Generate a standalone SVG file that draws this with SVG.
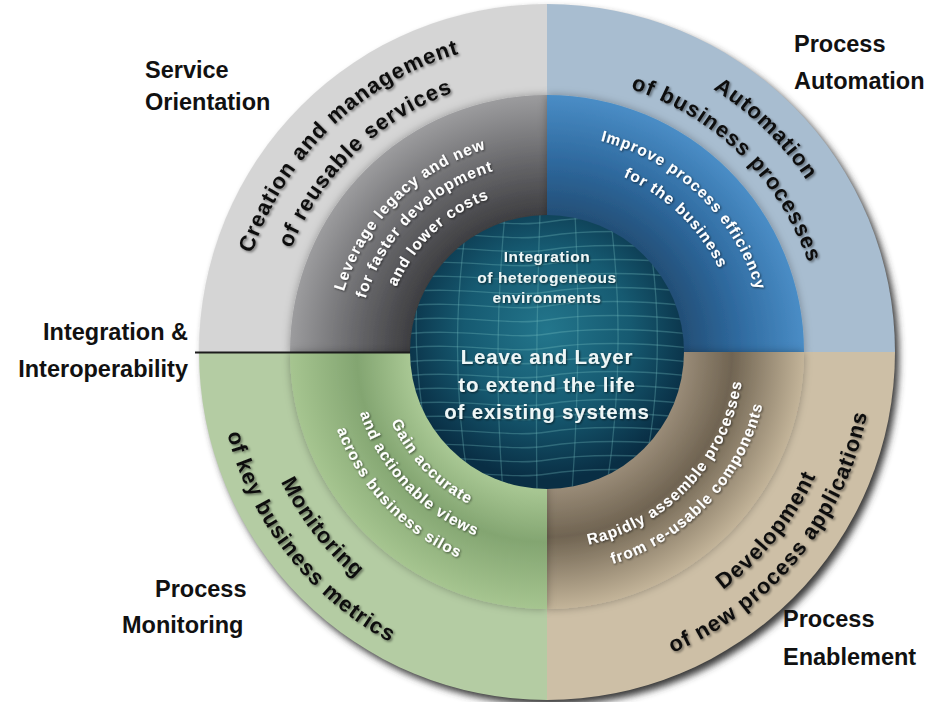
<svg xmlns="http://www.w3.org/2000/svg" width="943" height="702" viewBox="0 0 943 702">
  <defs>
    <style>
      .lbl{font-family:"Liberation Sans",Arial,sans-serif;font-weight:700;font-size:23.5px;fill:#111}
      .ring{font-family:"Liberation Sans",Arial,sans-serif;font-weight:700;font-size:22px;letter-spacing:1px;fill:#111;text-anchor:middle}
      .band{font-family:"Liberation Sans",Arial,sans-serif;font-weight:700;font-size:15.5px;letter-spacing:1px;fill:#fff;text-anchor:middle}
      .core{font-family:"Liberation Sans",Arial,sans-serif;font-weight:700;fill:#eef6f6;text-anchor:middle}
      .grid{fill:none;stroke:#7cc4c4;stroke-opacity:0.3;stroke-width:1.3}
    </style>

    <!-- soft drop shadow beneath the whole disc -->
    <filter id="discShadow" x="-10%" y="-10%" width="125%" height="125%">
      <feGaussianBlur stdDeviation="3.5"/>
    </filter>
    <!-- shadow for the coloured band edge -->
    <filter id="bandShadow" x="-10%" y="-10%" width="120%" height="120%">
      <feDropShadow dx="0" dy="0" stdDeviation="4" flood-color="#000" flood-opacity="0.3"/>
    </filter>
    <!-- text shadows -->
    <filter id="darkTxt" x="-10%" y="-20%" width="120%" height="140%">
      <feDropShadow dx="1.5" dy="1.5" stdDeviation="1.3" flood-color="#000" flood-opacity="0.45"/>
    </filter>
    <filter id="lightTxt" x="-10%" y="-20%" width="120%" height="140%">
      <feDropShadow dx="1" dy="1" stdDeviation="1.2" flood-color="#000" flood-opacity="0.6"/>
    </filter>

    <radialGradient id="gTL" gradientUnits="userSpaceOnUse" cx="547" cy="352" r="257">
      <stop offset="0.53" stop-color="#3d3d40"/>
      <stop offset="0.75" stop-color="#68686b"/>
      <stop offset="1" stop-color="#9c9c9e"/>
    </radialGradient>
    <radialGradient id="gTR" gradientUnits="userSpaceOnUse" cx="547" cy="352" r="257">
      <stop offset="0.53" stop-color="#234e76"/>
      <stop offset="0.75" stop-color="#2f6a9f"/>
      <stop offset="1" stop-color="#4a8dc6"/>
    </radialGradient>
    <radialGradient id="gBL" gradientUnits="userSpaceOnUse" cx="547" cy="352" r="257">
      <stop offset="0.53" stop-color="#a9c894"/>
      <stop offset="0.74" stop-color="#83a571"/>
      <stop offset="1" stop-color="#a6c590"/>
    </radialGradient>
    <radialGradient id="gBR" gradientUnits="userSpaceOnUse" cx="547" cy="352" r="257">
      <stop offset="0.53" stop-color="#9a8c78"/>
      <stop offset="0.72" stop-color="#706452"/>
      <stop offset="1" stop-color="#c3b499"/>
    </radialGradient>
    <radialGradient id="gCore" gradientUnits="userSpaceOnUse" cx="547" cy="330" r="150">
      <stop offset="0" stop-color="#23768c"/>
      <stop offset="0.55" stop-color="#165a71"/>
      <stop offset="1" stop-color="#092e44"/>
    </radialGradient>

    <clipPath id="coreClip">
      <circle cx="547" cy="352" r="137"/>
    </clipPath>

    <!-- text baselines: upper arcs run clockwise, lower arcs counter-clockwise -->
    <path id="u311" d="M236,352 A311,311 0 0 1 858,352"/>
    <path id="u276" d="M271,352 A276,276 0 0 1 823,352"/>
    <path id="u212" d="M335,352 A212,212 0 0 1 759,352"/>
    <path id="u189" d="M358,352 A189,189 0 0 1 736,352"/>
    <path id="u164" d="M383,352 A164,164 0 0 1 711,352"/>
    <path id="u218" d="M329,352 A218,218 0 0 1 765,352"/>
    <path id="u191" d="M356,352 A191,191 0 0 1 738,352"/>
    <path id="d296" d="M251,352 A296,296 0 0 0 843,352"/>
    <path id="d330" d="M217,352 A330,330 0 0 0 877,352"/>
    <path id="d326" d="M221,352 A326,326 0 0 0 873,352"/>
    <path id="d171" d="M376,352 A171,171 0 0 0 718,352"/>
    <path id="d197" d="M350,352 A197,197 0 0 0 744,352"/>
    <path id="d224" d="M323,352 A224,224 0 0 0 771,352"/>
    <path id="d222" d="M325,352 A222,222 0 0 0 769,352"/>
  </defs>

  <rect width="943" height="702" fill="#fff"/>

  <!-- disc shadow -->
  <circle cx="551" cy="357" r="348" fill="#3a3a3a" filter="url(#discShadow)"/>

  <!-- Service Orientation quadrant -->
  <g id="service-orientation">
    <path d="M547,352 L199,352 A348,348 0 0 1 547,4 Z" fill="#d5d5d5"/>
    <path d="M547,352 L290,352 A257,257 0 0 1 547,95 Z" fill="url(#gTL)" filter="url(#bandShadow)"/>
    <g filter="url(#darkTxt)">
      <text class="ring"><textPath href="#u311" startOffset="25.6%">Creation and management</textPath></text>
      <text class="ring"><textPath href="#u276" startOffset="25.6%">of reusable services</textPath></text>
    </g>
    <g filter="url(#lightTxt)">
      <text class="band"><textPath href="#u212" startOffset="25%">Leverage legacy and new</textPath></text>
      <text class="band"><textPath href="#u189" startOffset="25%">for faster development</textPath></text>
      <text class="band"><textPath href="#u164" startOffset="25.8%">and lower costs</textPath></text>
    </g>
    <text class="lbl" x="145" y="78">Service</text>
    <text class="lbl" x="145" y="110">Orientation</text>
  </g>

  <!-- Process Automation quadrant -->
  <g id="process-automation">
    <path d="M547,352 L547,4 A348,348 0 0 1 895,352 Z" fill="#a8bdd0"/>
    <path d="M547,352 L547,95 A257,257 0 0 1 804,352 Z" fill="url(#gTR)" filter="url(#bandShadow)"/>
    <g filter="url(#darkTxt)">
      <text class="ring"><textPath href="#u311" startOffset="74.7%">Automation</textPath></text>
      <text class="ring"><textPath href="#u276" startOffset="74.7%">of business processes</textPath></text>
    </g>
    <g filter="url(#lightTxt)">
      <text class="band"><textPath href="#u218" startOffset="74.4%">Improve process efficiency</textPath></text>
      <text class="band"><textPath href="#u191" startOffset="74.4%">for the business</textPath></text>
    </g>
    <text class="lbl" x="794" y="52">Process</text>
    <text class="lbl" x="794" y="89">Automation</text>
  </g>

  <!-- Process Enablement quadrant -->
  <g id="process-enablement">
    <path d="M547,352 L895,352 A348,348 0 0 1 547,700 Z" fill="#cdbfa6"/>
    <path d="M547,352 L804,352 A257,257 0 0 1 547,609 Z" fill="url(#gBR)" filter="url(#bandShadow)"/>
    <g filter="url(#darkTxt)">
      <text class="ring"><textPath href="#d296" startOffset="78.3%">Development</textPath></text>
      <text class="ring"><textPath href="#d326" startOffset="78.3%">of new process applications</textPath></text>
    </g>
    <g filter="url(#lightTxt)">
      <text class="band"><textPath href="#d197" startOffset="76%">Rapidly assemble processes</textPath></text>
      <text class="band"><textPath href="#d222" startOffset="76%">from re-usable components</textPath></text>
    </g>
    <text class="lbl" x="783" y="627">Process</text>
    <text class="lbl" x="783" y="665">Enablement</text>
  </g>

  <!-- Process Monitoring quadrant -->
  <g id="process-monitoring">
    <path d="M547,352 L547,700 A348,348 0 0 1 199,352 Z" fill="#b4cca3"/>
    <path d="M547,352 L547,609 A257,257 0 0 1 290,352 Z" fill="url(#gBL)" filter="url(#bandShadow)"/>
    <g filter="url(#darkTxt)">
      <text class="ring"><textPath href="#d296" startOffset="21.1%">Monitoring</textPath></text>
      <text class="ring"><textPath href="#d330" startOffset="21.1%">of key business metrics</textPath></text>
    </g>
    <g filter="url(#lightTxt)">
      <text class="band"><textPath href="#d171" startOffset="24.2%">Gain accurate</textPath></text>
      <text class="band"><textPath href="#d197" startOffset="24.2%">and actionable views</textPath></text>
      <text class="band"><textPath href="#d224" startOffset="24.2%">across business silos</textPath></text>
    </g>
    <text class="lbl" x="155" y="597">Process</text>
    <text class="lbl" x="122" y="633">Monitoring</text>
  </g>

  <!-- Integration & Interoperability: divider and label -->
  <g id="integration">
    <line x1="195" y1="352.5" x2="412" y2="352.5" stroke="#1c1c1c" stroke-width="2"/>
    <text class="lbl" x="188" y="340" text-anchor="end">Integration &amp;</text>
    <text class="lbl" x="188" y="377" text-anchor="end">Interoperability</text>
  </g>

  <!-- central globe -->
  <g id="core">
    <circle cx="547" cy="352" r="137" fill="url(#gCore)"/>
    <g clip-path="url(#coreClip)" class="grid">
      <path d="M405,222 C460,216 510,228 547,222 S640,216 690,222"/>
      <path d="M405,236 C460,230 510,242 547,236 S640,230 690,236"/>
      <path d="M405,250 C460,244 510,256 547,250 S640,244 690,250"/>
      <path d="M405,264 C460,258 510,270 547,264 S640,258 690,264"/>
      <path d="M405,278 C460,272 510,284 547,278 S640,272 690,278"/>
      <path d="M405,292 C460,286 510,298 547,292 S640,286 690,292"/>
      <path d="M405,306 C460,300 510,312 547,306 S640,300 690,306"/>
      <path d="M405,320 C460,314 510,326 547,320 S640,314 690,320"/>
      <path d="M405,334 C460,328 510,340 547,334 S640,328 690,334"/>
      <path d="M405,348 C460,342 510,354 547,348 S640,342 690,348"/>
      <path d="M405,362 C460,356 510,368 547,362 S640,356 690,362"/>
      <path d="M405,376 C460,370 510,382 547,376 S640,370 690,376"/>
      <path d="M405,390 C460,384 510,396 547,390 S640,384 690,390"/>
      <path d="M405,404 C460,398 510,410 547,404 S640,398 690,404"/>
      <path d="M405,418 C460,412 510,424 547,418 S640,412 690,418"/>
      <path d="M405,432 C460,426 510,438 547,432 S640,426 690,432"/>
      <path d="M405,446 C460,440 510,452 547,446 S640,440 690,446"/>
      <path d="M405,460 C460,454 510,466 547,460 S640,454 690,460"/>
      <path d="M405,474 C460,468 510,480 547,474 S640,468 690,474"/>
      <path d="M427,214 Q400,352 440,492"/>
      <path d="M468,214 Q446,352 470,492"/>
      <path d="M505,214 Q492,352 503,492"/>
      <path d="M540,214 Q535,352 537,492"/>
      <path d="M575,214 Q582,352 572,492"/>
      <path d="M610,214 Q628,352 606,492"/>
      <path d="M645,214 Q672,352 640,492"/>
      <path d="M676,214 Q712,352 672,492"/>
    </g>
    <g filter="url(#lightTxt)">
      <text class="core" x="547" y="262" font-size="15.5" letter-spacing="0.6">Integration</text>
      <text class="core" x="547" y="283" font-size="15.5" letter-spacing="0.6">of heterogeneous</text>
      <text class="core" x="547" y="303" font-size="15.5" letter-spacing="0.6">environments</text>
      <text class="core" x="547" y="364" font-size="20.5" letter-spacing="0.8">Leave and Layer</text>
      <text class="core" x="547" y="392" font-size="20.5" letter-spacing="0.8">to extend the life</text>
      <text class="core" x="547" y="419" font-size="20.5" letter-spacing="0.8">of existing systems</text>
    </g>
  </g>
</svg>
